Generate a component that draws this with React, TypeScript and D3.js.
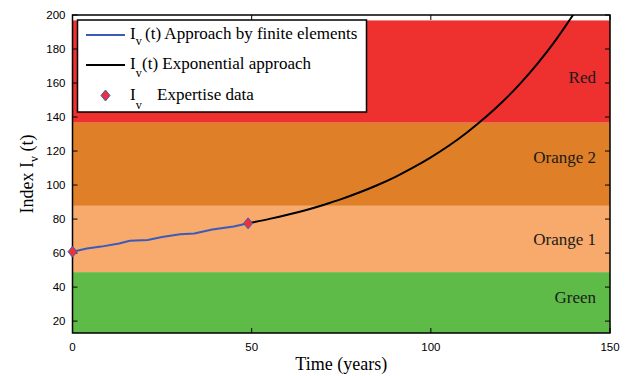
import React from "react";
import * as d3 from "d3";

// Finite-element index trajectory (years, index)
const feTime = [0, 4, 8, 13, 16, 21, 25, 30, 34, 39, 45, 49];
const feIndex = [60.8, 62.7, 63.8, 65.6, 67.2, 67.7, 69.5, 71.0, 71.5, 73.8, 75.6, 77.5];

// Exponential extrapolation of the index
const expTime = [49, 55, 60, 65, 70, 75, 80, 85, 90, 95, 100, 105, 110, 115, 120, 125, 130, 135, 140];
const expIndex = [77.5, 80.1, 82.5, 85.2, 88.3, 91.7, 95.6, 99.9, 104.7, 110.2, 116.3, 123.1, 130.8, 139.4, 149.0, 159.8, 172.0, 185.7, 201.0];

// Expertise data points
const dataTime = [0, 49];
const dataIndex = [60.8, 77.5];

// Condition classes
const bandNames = ["Green", "Orange 1", "Orange 2", "Red"];
const bandLow = [13, 48.8, 87.8, 136.7];
const bandHigh = [48.8, 87.8, 136.7, 196.8];
const bandLabelAt = [34, 68.2, 116.5, 163.5];
const bandColors = ["#5ebb48", "#f7aa6b", "#df7f28", "#ee302e"];

const xTicks = [0, 50, 100, 150];
const yTicks = [20, 40, 60, 80, 100, 120, 140, 160, 180, 200];

const W = 635;
const H = 376;
const left = 72.5;
const right = 610;
const top = 15;
const bottom = 333;

const serif = "'Liberation Serif', 'Times New Roman', serif";
const sans = "'Liberation Sans', Arial, sans-serif";

export default function App() {
  const x = d3.scaleLinear().domain([0, 150]).range([left, right]);
  const y = d3.scaleLinear().domain([13, 200]).range([bottom, top]);

  const line = d3
    .line<[number, number]>()
    .x((d) => x(d[0]))
    .y((d) => y(d[1]));
  const smooth = d3
    .line<[number, number]>()
    .x((d) => x(d[0]))
    .y((d) => y(d[1]))
    .curve(d3.curveMonotoneX);

  const feData = feTime.map((t, i) => [t, feIndex[i]] as [number, number]);
  const expData = expTime.map((t, i) => [t, expIndex[i]] as [number, number]);

  const diamond = (cx: number, cy: number) =>
    `M${cx},${cy - 5.5}L${cx + 4.5},${cy}L${cx},${cy + 5.5}L${cx - 4.5},${cy}Z`;

  const blue = "#3a5cb8";
  const markerFill = "#ee3038";

  // legend geometry
  const lgX = 77.5;
  const lgY = 20;
  const lgW = 289;
  const lgH = 92;
  const rows = [35, 65, 95.5];

  return (
    <svg
      width={W}
      height={H}
      style={{ position: "absolute", left: 0, top: 0, background: "#fff" }}
    >
      <defs>
        <clipPath id="plot">
          <rect x={left} y={top} width={right - left} height={bottom - top} />
        </clipPath>
      </defs>

      {/* condition bands */}
      {bandNames.map((name, i) => (
        <rect
          key={name}
          x={left}
          y={y(bandHigh[i])}
          width={right - left}
          height={y(bandLow[i]) - y(bandHigh[i])}
          fill={bandColors[i]}
        />
      ))}
      {bandNames.map((name, i) => (
        <text
          key={"l" + name}
          x={596}
          y={y(bandLabelAt[i])}
          dy="0.35em"
          textAnchor="end"
          fontFamily={serif}
          fontSize={17}
          fill="#1a1a1a"
        >
          {name}
        </text>
      ))}

      {/* curves */}
      <g clipPath="url(#plot)">
        <path d={line(feData) ?? ""} fill="none" stroke={blue} strokeWidth={2} />
        <path d={smooth(expData) ?? ""} fill="none" stroke="#000" strokeWidth={2} />
      </g>

      {/* frame */}
      <rect
        x={left}
        y={top}
        width={right - left}
        height={bottom - top}
        fill="none"
        stroke="#000"
        strokeWidth={1.5}
      />

      {/* y ticks */}
      {yTicks.map((v) => (
        <g key={"y" + v}>
          <line x1={left} x2={left + 5} y1={y(v)} y2={y(v)} stroke="#000" strokeWidth={1} />
          <line x1={right - 5} x2={right} y1={y(v)} y2={y(v)} stroke="#000" strokeWidth={1} />
          <text
            x={left - 7}
            y={y(v)}
            dy="0.36em"
            textAnchor="end"
            fontFamily={sans}
            fontSize={11.5}
            fill="#000"
          >
            {v}
          </text>
        </g>
      ))}

      {/* x ticks */}
      {xTicks.map((t) => (
        <g key={"x" + t}>
          <line x1={x(t)} x2={x(t)} y1={bottom} y2={bottom - 5} stroke="#000" strokeWidth={1} />
          <line x1={x(t)} x2={x(t)} y1={top} y2={top + 5} stroke="#000" strokeWidth={1} />
          <text
            x={x(t)}
            y={351}
            textAnchor="middle"
            fontFamily={sans}
            fontSize={11.5}
            fill="#000"
          >
            {t}
          </text>
        </g>
      ))}

      {/* expertise data markers */}
      {dataTime.map((t, i) => (
        <path
          key={t}
          d={diamond(x(t), y(dataIndex[i]))}
          fill={markerFill}
          stroke={blue}
          strokeWidth={1}
        />
      ))}

      {/* axis titles */}
      <text
        x={(left + right) / 2}
        y={370}
        textAnchor="middle"
        fontFamily={serif}
        fontSize={18}
        fill="#000"
      >
        Time (years)
      </text>
      <text
        transform={`translate(33,${(top + bottom) / 2}) rotate(-90)`}
        textAnchor="middle"
        fontFamily={serif}
        fontSize={18}
        fill="#000"
      >
        Index I
        <tspan dy={5} fontSize={12}>v</tspan>
        <tspan dy={-5}> (t)</tspan>
      </text>

      {/* legend */}
      <rect x={lgX} y={lgY} width={lgW} height={lgH} fill="#fff" stroke="#000" strokeWidth={1.5} />
      <line x1={86} x2={125} y1={rows[0]} y2={rows[0]} stroke={blue} strokeWidth={2} />
      <line x1={86} x2={125} y1={rows[1]} y2={rows[1]} stroke="#000" strokeWidth={2} />
      <path d={diamond(105.5, rows[2])} fill={markerFill} stroke={blue} strokeWidth={1} />

      <text x={130} y={rows[0] + 4} fontFamily={serif} fontSize={17} fill="#000">
        I
        <tspan dy={6} fontSize={12}>v</tspan>
        <tspan x={145} dy={-6}>(t) Approach by finite elements</tspan>
      </text>
      <text x={130} y={rows[1] + 4} fontFamily={serif} fontSize={17} fill="#000">
        I
        <tspan dy={8} fontSize={12}>v</tspan>
        <tspan x={142} dy={-8}>(t) Exponential approach</tspan>
      </text>
      <text x={130} y={rows[2] + 4} fontFamily={serif} fontSize={17} fill="#000">
        I
        <tspan dy={9} fontSize={12}>v</tspan>
        <tspan x={157} dy={-9}>Expertise data</tspan>
      </text>
    </svg>
  );
}
